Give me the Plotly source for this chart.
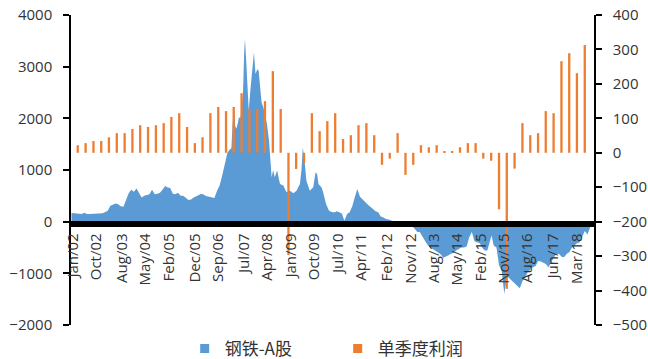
import pandas as pd
import plotly.graph_objects as go

# 钢铁-A股 index level (left axis)
index_dates = [
    "2002-01-01", "2002-02-01", "2002-03-01", "2002-04-01", "2002-05-01", "2002-06-01",
    "2002-07-01", "2002-08-01", "2002-09-01", "2002-10-01", "2002-11-01", "2002-12-01",
    "2003-01-01", "2003-02-01", "2003-03-01", "2003-04-01", "2003-05-01", "2003-06-01",
    "2003-07-01", "2003-08-01", "2003-09-01", "2003-10-01", "2003-11-01", "2003-12-01",
    "2004-01-01", "2004-02-01", "2004-03-01", "2004-04-01", "2004-05-01", "2004-06-01",
    "2004-07-01", "2004-08-01", "2004-09-01", "2004-10-01", "2004-11-01", "2004-12-01",
    "2005-01-01", "2005-02-01", "2005-03-01", "2005-04-01", "2005-05-01", "2005-06-01",
    "2005-07-01", "2005-08-01", "2005-09-01", "2005-10-01", "2005-11-01", "2005-12-01",
    "2006-01-01", "2006-02-01", "2006-03-01", "2006-04-01", "2006-05-01", "2006-06-01",
    "2006-07-01", "2006-08-01", "2006-09-01", "2006-10-01", "2006-11-01", "2006-12-01",
    "2007-01-01", "2007-02-01", "2007-02-16", "2007-03-01", "2007-03-16", "2007-04-01",
    "2007-04-16", "2007-05-01", "2007-05-16", "2007-06-01", "2007-06-16", "2007-07-01",
    "2007-07-16", "2007-07-25", "2007-08-07", "2007-08-19", "2007-09-07", "2007-09-25",
    "2007-10-16", "2007-11-07", "2007-11-25", "2007-12-16", "2008-01-01", "2008-01-16",
    "2008-02-04", "2008-02-25", "2008-03-13", "2008-04-07", "2008-05-01", "2008-05-16",
    "2008-06-01", "2008-06-19", "2008-07-07", "2008-08-04", "2008-09-07", "2008-10-16",
    "2008-11-22", "2009-01-01", "2009-02-10", "2009-03-19", "2009-04-28", "2009-05-16",
    "2009-06-01", "2009-06-25", "2009-07-13", "2009-08-22", "2009-10-01", "2009-10-28",
    "2009-11-16", "2009-12-01", "2010-01-07", "2010-01-25", "2010-02-28", "2010-04-04",
    "2010-05-13", "2010-06-13", "2010-07-01", "2010-08-01", "2010-09-01", "2010-10-01",
    "2010-11-01", "2010-12-01", "2011-01-01", "2011-02-01", "2011-03-01", "2011-04-01",
    "2011-05-01", "2011-06-01", "2011-07-01", "2011-08-01", "2011-09-01", "2011-10-01",
    "2011-11-01", "2011-12-01", "2012-01-01", "2012-02-01", "2012-03-01", "2012-04-01",
    "2012-05-01", "2012-06-01", "2012-07-01", "2012-08-01", "2012-09-01", "2012-10-01",
    "2012-11-01", "2012-12-01", "2013-01-01", "2013-02-01", "2013-03-01", "2013-04-01",
    "2013-05-01", "2013-06-01", "2013-07-01", "2013-08-01", "2013-09-01", "2013-10-01",
    "2013-11-01", "2013-12-01", "2014-01-01", "2014-02-01", "2014-03-01", "2014-04-01",
    "2014-05-01", "2014-06-01", "2014-07-01", "2014-08-01", "2014-09-01", "2014-10-01",
    "2014-11-01", "2014-12-01", "2015-01-01", "2015-02-01", "2015-03-01", "2015-04-01",
    "2015-05-01", "2015-06-01", "2015-06-19", "2015-07-16", "2015-08-16", "2015-09-16",
    "2015-10-16", "2015-11-16", "2015-12-16", "2016-01-16", "2016-02-16", "2016-03-16",
    "2016-04-16", "2016-05-16", "2016-06-16", "2016-07-16", "2016-08-16", "2016-09-16",
    "2016-10-16", "2016-11-16", "2016-12-16", "2017-01-16", "2017-02-16", "2017-03-16",
    "2017-04-16", "2017-05-16", "2017-06-16", "2017-07-16", "2017-08-16", "2017-09-16",
    "2017-10-16", "2017-11-16", "2017-12-16", "2018-01-16", "2018-02-16", "2018-03-16",
    "2018-04-16", "2018-05-16", "2018-06-16", "2018-07-16", "2018-08-15",
]
index_values = [
    170, 165, 160, 155, 150, 175,
    150, 148, 150, 155, 158, 160,
    165, 185, 210, 310, 330, 350,
    335, 300, 290, 420, 550, 620,
    580, 640, 560, 470, 500, 520,
    530, 620, 530, 540, 560, 620,
    690, 660, 650, 540, 530, 560,
    500, 500, 460, 420, 430, 470,
    490, 520, 540, 520, 490, 480,
    470, 460, 600, 700, 900, 1150,
    1340, 1400, 1420, 1850, 2210, 1850,
    1800, 1900, 2020, 2000, 2200, 2450,
    3300, 3530, 3150, 2750, 2150, 2530,
    2990, 3280, 2860, 2950, 2920, 2660,
    2310, 2210, 2080, 1890, 1570, 1245,
    860, 1000, 860, 990, 730, 700,
    570, 600, 550, 600, 730, 990,
    1440, 1115, 790, 600, 664, 955,
    920, 730, 660, 570, 340, 213,
    180, 180, 200, 180, 160, 20,
    150, 180, 300, 480, 630, 480,
    420, 380, 330, 280, 245, 200,
    180, 100, 80, 50, 40, 25,
    20, -10, 15, 20, 15, -10,
    -30, -80, -150, -200, -200, -300,
    -370, -450, -500, -530, -560, -590,
    -630, -700, -680, -650, -620, -600,
    -560, -530, -500, -500, -480, -300,
    -200, -380, -400, -420, -500, -560,
    -560, -400, -270, -465, -500, -850,
    -950, -1400, -1045, -1100, -1150, -1180,
    -1250, -1290, -1150, -1080, -980, -920,
    -880, -860, -760, -770, -790, -820,
    -880, -780, -700, -630, -620, -680,
    -690, -620, -590, -500, -460, -420,
    -400, -300, -180, -250, -120,
]

# 单季度利润 single-quarter profit (right axis), 2002Q1 - 2018Q2
quarters = pd.period_range("2002Q1", "2018Q2", freq="Q")
quarter_profit = [
    22, 28, 34, 34, 45, 57, 57, 69, 80, 75,
    80, 86, 104, 115, 75, 28, 45, 115, 133, 121,
    133, 173, 127, 127, 150, 237, 127, -297, -47, -30,
    115, 63, 92, 115, 40, 51, 80, 86, 51, -35,
    -17, 57, -64, -35, 22, 16, 22, 5, 5, 16,
    28, 28, -17, -23, -164, -395, -46, 86, 51, 57,
    121, 115, 266, 289, 231, 313,
]

tick_labels = [
    "Jan/02", "Oct/02", "Aug/03", "May/04", "Feb/05", "Dec/05", "Sep/06",
    "Jul/07", "Apr/08", "Jan/09", "Oct/09", "Jul/10", "Apr/11", "Feb/12",
    "Nov/12", "Aug/13", "May/14", "Feb/15", "Nov/15", "Aug/16", "Jun/17", "Mar/18",
]

BLUE = "#5B9BD5"
ORANGE = "#ED7D31"
TEXT = "#333333"

# bars sit mid-way through the last month of each quarter
bar_dates = [q.asfreq("M", "end").to_timestamp() + pd.Timedelta(days=14) for q in quarters]
tick_dates = [pd.to_datetime(t, format="%b/%y") + pd.Timedelta(days=14) for t in tick_labels]

fig = go.Figure()

fig.add_trace(go.Scatter(
    x=pd.to_datetime(index_dates), y=index_values,
    mode="lines", line=dict(width=0, color=BLUE),
    fill="tozeroy", fillcolor=BLUE,
    name="钢铁-A股", showlegend=False, hoverinfo="skip",
))

fig.add_trace(go.Bar(
    x=bar_dates, y=quarter_profit, yaxis="y2",
    marker=dict(color=ORANGE, line=dict(width=0)),
    width=27 * 24 * 3600 * 1000,
    name="单季度利润", showlegend=False,
))

# legend swatches
fig.add_trace(go.Scatter(
    x=[None], y=[None], mode="markers",
    marker=dict(symbol="square", size=9, color=BLUE),
    name="钢铁-A股",
))
fig.add_trace(go.Scatter(
    x=[None], y=[None], mode="markers", yaxis="y2",
    marker=dict(symbol="square", size=9, color=ORANGE),
    name="单季度利润",
))

fig.update_layout(
    width=648, height=359,
    margin=dict(l=71, r=54, t=15, b=34, autoexpand=False),
    paper_bgcolor="white", plot_bgcolor="white",
    font=dict(family="Open Sans", size=15, color=TEXT),
    legend=dict(
        orientation="h", xref="container", yref="container",
        x=0.285, xanchor="left", y=0.028, yanchor="middle",
        font=dict(family="Noto Sans CJK SC", size=17, color=TEXT),
        entrywidthmode="pixels", entrywidth=108,
        bgcolor="rgba(0,0,0,0)",
    ),
    xaxis=dict(
        type="date", range=["2001-12-26", "2018-10-01"],
        tickmode="array", tickvals=tick_dates, ticktext=tick_labels,
        tickangle=-90, ticks="", showgrid=False, zeroline=False,
        showline=True, linecolor="black", linewidth=6,
        anchor="free", position=0.3245,
        tickfont=dict(size=15, color=TEXT),
    ),
    yaxis=dict(
        range=[-2000, 4000], tickmode="array",
        tickvals=[-2000, -1000, 0, 1000, 2000, 3000, 4000],
        showgrid=False, zeroline=False,
        showline=True, linecolor="black", linewidth=1.5,
        ticks="outside", ticklen=6, tickwidth=1.5, tickcolor="black",
        ticklabelstandoff=8,
    ),
    yaxis2=dict(
        overlaying="y", side="right", anchor="x",
        range=[-500, 400], tickmode="array",
        tickvals=[-500, -400, -300, -200, -100, 0, 100, 200, 300, 400],
        showgrid=False, zeroline=False,
        showline=True, linecolor="black", linewidth=1.5,
        ticks="outside", ticklen=6, tickwidth=1.5, tickcolor="black",
        ticklabelstandoff=8,
    ),
)

fig.write_html("out.html")
